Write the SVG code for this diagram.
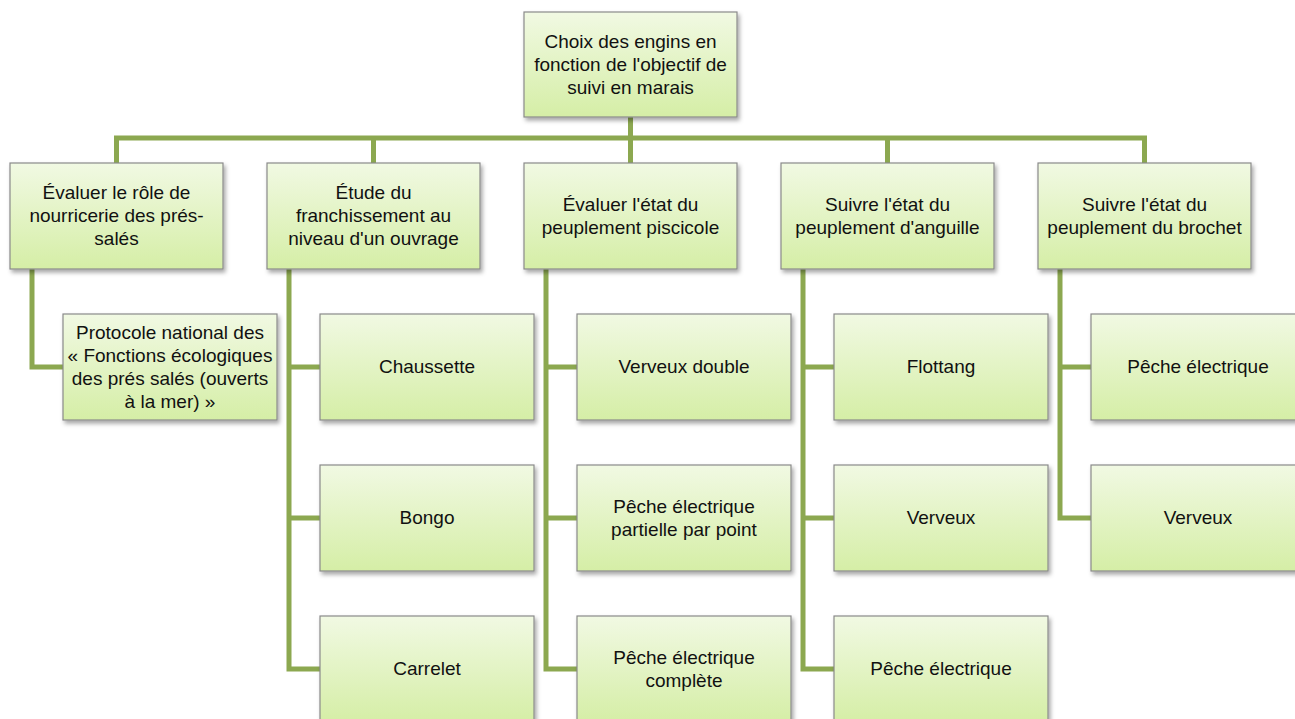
<svg xmlns="http://www.w3.org/2000/svg" width="1295" height="719" viewBox="0 0 1295 719">
<defs>
<linearGradient id="g" x1="0" y1="0" x2="0" y2="1">
<stop offset="0" stop-color="#F1F9E3"/>
<stop offset="1" stop-color="#D5EEA6"/>
</linearGradient>
<filter id="sh" x="-10%" y="-10%" width="125%" height="130%">
<feDropShadow dx="2" dy="3" stdDeviation="2" flood-color="#000" flood-opacity="0.35"/>
</filter>
<style>
.b{fill:url(#g);stroke:#8A8A8A;stroke-width:1.2;filter:url(#sh)}
.t{font-family:"Liberation Sans",Arial,sans-serif;font-size:19px;fill:#111;text-anchor:middle}
.c{fill:none;stroke:#8CA850;stroke-width:5;stroke-linejoin:miter;stroke-linecap:butt}
</style>
</defs>
<rect width="1295" height="719" fill="#fff"/>
<g id="connectors">
<path class="c" d="M630.5 117V163M116.5 163V138H1144.5V163M373.5 138V163M887.5 138V163"/>
<path class="c" d="M32 269V367H63"/>
<path class="c" d="M289 269V669H320M289 367H320M289 518H320"/>
<path class="c" d="M546 269V669H577M546 367H577M546 518H577"/>
<path class="c" d="M803 269V669H834M803 367H834M803 518H834"/>
<path class="c" d="M1060 269V518H1091M1060 367H1091"/>
</g>
<g id="root"><rect class="b" x="524" y="12" width="213" height="105"/>
<text class="t"><tspan x="630.5" y="47.5">Choix des engins en</tspan><tspan x="630.5" y="70.5">fonction de l'objectif de</tspan><tspan x="630.5" y="93.5">suivi en marais</tspan></text></g>
<g id="n1"><rect class="b" x="10" y="163" width="213" height="106"/>
<text class="t"><tspan x="116.5" y="199">Évaluer le rôle de</tspan><tspan x="116.5" y="222">nourricerie des prés-</tspan><tspan x="116.5" y="245">salés</tspan></text></g>
<g id="n2"><rect class="b" x="267" y="163" width="213" height="106"/>
<text class="t"><tspan x="373.5" y="199">Étude du</tspan><tspan x="373.5" y="222">franchissement au</tspan><tspan x="373.5" y="245">niveau d'un ouvrage</tspan></text></g>
<g id="n3"><rect class="b" x="524" y="163" width="213" height="106"/>
<text class="t"><tspan x="630.5" y="210.5">Évaluer l'état du</tspan><tspan x="630.5" y="233.5">peuplement piscicole</tspan></text></g>
<g id="n4"><rect class="b" x="781" y="163" width="213" height="106"/>
<text class="t"><tspan x="887.5" y="210.5">Suivre l'état du</tspan><tspan x="887.5" y="233.5">peuplement d'anguille</tspan></text></g>
<g id="n5"><rect class="b" x="1038" y="163" width="213" height="106"/>
<text class="t"><tspan x="1144.5" y="210.5">Suivre l'état du</tspan><tspan x="1144.5" y="233.5">peuplement du brochet</tspan></text></g>
<g id="n1a"><rect class="b" x="63" y="314" width="214" height="106"/>
<text class="t"><tspan x="170" y="338.5">Protocole national des</tspan><tspan x="170" y="361.5">« Fonctions écologiques</tspan><tspan x="170" y="384.5">des prés salés (ouverts</tspan><tspan x="170" y="407.5">à la mer) »</tspan></text></g>
<g id="n2a"><rect class="b" x="320" y="314" width="214" height="106"/>
<text class="t" x="427" y="373">Chaussette</text></g>
<g id="n2b"><rect class="b" x="320" y="465" width="214" height="106"/>
<text class="t" x="427" y="524">Bongo</text></g>
<g id="n2c"><rect class="b" x="320" y="616" width="214" height="106"/>
<text class="t" x="427" y="675">Carrelet</text></g>
<g id="n3a"><rect class="b" x="577" y="314" width="214" height="106"/>
<text class="t" x="684" y="373">Verveux double</text></g>
<g id="n3b"><rect class="b" x="577" y="465" width="214" height="106"/>
<text class="t"><tspan x="684" y="512.5">Pêche électrique</tspan><tspan x="684" y="535.5">partielle par point</tspan></text></g>
<g id="n3c"><rect class="b" x="577" y="616" width="214" height="106"/>
<text class="t"><tspan x="684" y="663.5">Pêche électrique</tspan><tspan x="684" y="686.5">complète</tspan></text></g>
<g id="n4a"><rect class="b" x="834" y="314" width="214" height="106"/>
<text class="t" x="941" y="373">Flottang</text></g>
<g id="n4b"><rect class="b" x="834" y="465" width="214" height="106"/>
<text class="t" x="941" y="524">Verveux</text></g>
<g id="n4c"><rect class="b" x="834" y="616" width="214" height="106"/>
<text class="t" x="941" y="675">Pêche électrique</text></g>
<g id="n5a"><rect class="b" x="1091" y="314" width="214" height="106"/>
<text class="t" x="1198" y="373">Pêche électrique</text></g>
<g id="n5b"><rect class="b" x="1091" y="465" width="214" height="106"/>
<text class="t" x="1198" y="524">Verveux</text></g>
</svg>
